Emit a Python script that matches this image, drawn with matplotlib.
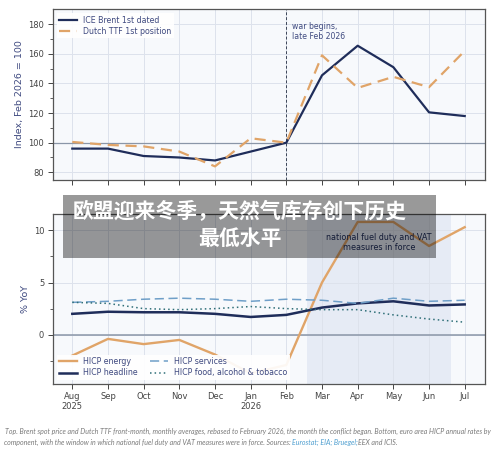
#!/usr/bin/env python
# -*- coding: utf-8 -*-

import matplotlib
matplotlib.use('Agg')

from matplotlib import pyplot as plt
from matplotlib.patches import Rectangle

W, H = 500, 453

months = ['Aug\n2025', 'Sep', 'Oct', 'Nov', 'Dec', 'Jan\n2026', 'Feb', 'Mar', 'Apr', 'May', 'Jun', 'Jul']

brent = [96, 96, 91, 90, 88, 94, 100, 145.5, 165.5, 151, 120.5, 118]
ttf = [100.5, 98.5, 97.5, 94, 84, 103, 100, 159, 137, 144.5, 137.5, 162]

energy = [-2, -0.4, -0.9, -0.5, -1.9, -3.7, -2.9, 5.0, 10.8, 10.8, 8.5, 10.3]
headline = [2.0, 2.2, 2.15, 2.15, 2.0, 1.7, 1.9, 2.6, 3.0, 3.2, 2.8, 2.9]
services = [3.1, 3.2, 3.4, 3.5, 3.4, 3.2, 3.4, 3.3, 3.0, 3.5, 3.2, 3.3]
food = [3.1, 3.0, 2.5, 2.4, 2.5, 2.7, 2.5, 2.4, 2.4, 1.9, 1.5, 1.2]

NAVY = '#1f2d5a'
ORANGE = '#e0a468'
BLUE = '#6f9fc8'
TEAL = '#2f6f78'
LABEL = '#3f4a80'
TICK = '#444444'


def make_axes(fig, left, top, right, bottom):
    return fig.add_axes([left / W, 1 - bottom / H, (right - left) / W, (bottom - top) / H])


def style_axes(ax):
    ax.set_facecolor('#f7f9fc')
    ax.set_xlim(-0.555, 11.555)
    ax.set_xticks(range(len(months)))
    ax.grid(True, which='major', color='#dde2ec', lw=0.7)
    ax.set_axisbelow(True)
    ax.tick_params(axis='both', which='major', labelsize=6.0, colors=TICK, length=3.5, width=0.7, pad=2.5)
    ax.tick_params(axis='y', which='minor', length=2, width=0.6, colors=TICK)
    for s in ax.spines.values():
        s.set_color('#555555')
        s.set_linewidth(0.9)


fig = plt.figure(figsize=(W / 100, H / 100), dpi=100)

legend_opts = dict(fontsize=5.7, labelcolor=LABEL, framealpha=0.92, edgecolor='none', fancybox=False,
                   borderaxespad=0.55, borderpad=0.3, handlelength=2.3, handletextpad=0.7, labelspacing=0.3)

ax1 = make_axes(fig, 52.5, 9, 484.5, 180)
style_axes(ax1)
ax1.set_ylim(74.8, 190.3)
ax1.set_yticks([80, 100, 120, 140, 160, 180])
ax1.set_yticks(range(90, 180, 20), minor=True)
ax1.set_xticklabels([])
ax1.set_ylabel('Index, Feb 2026 = 100', fontsize=6.8, color=LABEL, labelpad=3)
ax1.axhline(100, color='#8a96a8', lw=0.9, zorder=1)
ax1.axvline(6, color='#3d4658', lw=0.7, ls=(0, (3, 2)), zorder=1)
ax1.plot(brent, color=NAVY, lw=1.6, label='ICE Brent 1st dated', zorder=3)
ax1.plot(ttf, color=ORANGE, lw=1.6, ls=(0, (5, 3)), label='Dutch TTF 1st position', zorder=3)
ax1.text(6.16, 181.5, 'war begins,\nlate Feb 2026', fontsize=5.6, color=LABEL, va='top', linespacing=1.1)
ax1.legend(loc='upper left', **legend_opts)

ax2 = make_axes(fig, 52.5, 213.7, 484.5, 384)
style_axes(ax2)
ax2.set_ylim(-4.72, 11.59)
ax2.set_yticks([0, 5, 10])
ax2.set_yticks([-2.5, 2.5, 7.5], minor=True)
ax2.set_xticklabels(months, linespacing=1.1)
ax2.set_ylabel('% YoY', fontsize=6.8, color=LABEL, labelpad=3)
ax2.axvspan(6.59, 10.61, color='#e6ebf5', lw=0, zorder=0.5)
ax2.axhline(0, color='#8a96a8', lw=1.1, zorder=1)
ax2.plot(energy, color=ORANGE, lw=1.7, label='HICP energy', zorder=3)
ax2.plot(headline, color=NAVY, lw=1.8, label='HICP headline', zorder=3)
ax2.plot(services, color=BLUE, lw=1.1, ls=(0, (6, 3)), label='HICP services', zorder=3)
ax2.plot(food, color=TEAL, lw=1.1, ls=(0, (1, 2)), label='HICP food, alcohol & tobacco', zorder=3)
ax2.text(8.6, 8.83, 'national fuel duty and VAT\nmeasures in force', fontsize=5.8, color=NAVY,
         ha='center', va='center', linespacing=1.1)
ax2.legend(loc='lower left', ncol=2, columnspacing=1.6, **legend_opts)

# caption, second line has the coloured source links
CAP = '#7a7a7a'
cap = dict(fontsize=5.0, style='italic', family='Lato', va='center')
fig.text(5 / W, 1 - 431.5 / H,
         'Top. Brent spot price and Dutch TTF front-month, monthly averages, rebased to February 2026, '
         'the month the conflict began. Bottom, euro area HICP annual rates by', color=CAP, **cap)
fig.text(4.5 / W, 1 - 442.5 / H,
         'component, with the window in which national fuel duty and VAT measures were in force. Sources:',
         color=CAP, **cap)
fig.text(292 / W, 1 - 442.5 / H, 'Eurostat; EIA; Bruegel;', color='#4f9fd0', **cap)
fig.text(358 / W, 1 - 442.5 / H, 'EEX and ICIS.', color=CAP, **cap)

# headline banner sits on top of the chart
fig.add_artist(Rectangle((63 / W, 1 - 258 / H), 373 / W, 63 / H, transform=fig.transFigure,
                         facecolor='black', alpha=0.4, edgecolor='none', zorder=10))
fig.text(240 / W, 1 - 225 / H, '欧盟迎来冬季，天然气库存创下历史\n最低水平', color='white', fontsize=15,
         fontweight='bold', family=['Noto Sans CJK SC', 'DejaVu Sans'], ha='center', va='center',
         linespacing=1.3, zorder=11)

plt.savefig('out.png', dpi=100)
